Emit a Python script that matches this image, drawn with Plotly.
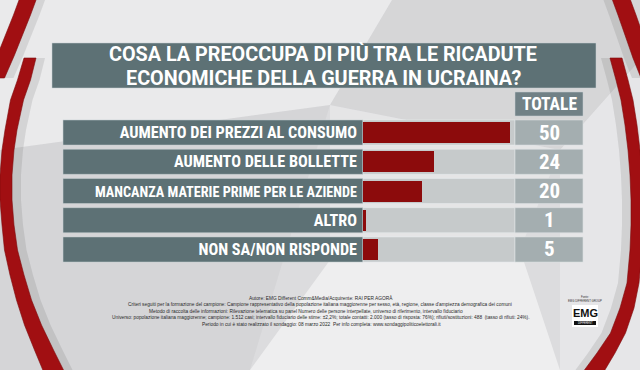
import plotly.graph_objects as go

W, H = 640, 370

# ---------------- data ----------------
title_lines = ["COSA LA PREOCCUPA DI PIÙ TRA LE RICADUTE",
               "ECONOMICHE DELLA GUERRA IN UCRAINA?"]
categories = ["AUMENTO DEI PREZZI AL CONSUMO",
              "AUMENTO DELLE BOLLETTE",
              "MANCANZA MATERIE PRIME PER LE AZIENDE",
              "ALTRO",
              "NON SA/NON RISPONDE"]
values = [50, 24, 20, 1, 5]
column_header = "TOTALE"
footer_lines = [
    "Autore: EMG Different Comm&Media/Acquirente: RAI PER AGORÀ",
    "Criteri seguiti per la formazione del campione: Campione rappresentativo della popolazione italiana maggiorenne per sesso, età, regione, classe d'ampiezza demografica dei comuni",
    "Metodo di raccolta delle informazioni: Rilevazione telematica su panel Numero delle persone interpellate, universo di riferimento, intervallo fiduciario",
    "Universo: popolazione italiana maggiorenne; campione: 1.512 casi; intervallo fiduciario delle stime: ±2,2%; totale contatti: 2.000 (tasso di risposta: 76%); rifiuti/sostituzioni: 488  (tasso di rifiuti: 24%).",
    "Periodo in cui è stato realizzato il sondaggio: 08 marzo 2022  Per info completa: www.sondaggipoliticoelettorali.it",
]
logo_text = "EMG"
logo_sub = "DIFFERENT"

# styles (kept apart from the data)
FONT = "Roboto Condensed, Liberation Sans Narrow, DejaVu Sans Condensed, sans-serif"
TITLE_FONT = "Roboto, Liberation Sans, sans-serif"
SMALL = "Liberation Sans, Arial, sans-serif"
label_sizes = [16.2, 16.2, 14.2, 16.2, 16.2]


def px(x):
    return x / W


def py(y):
    return 1 - y / H


def poly(points):
    s = "M " + " L ".join(f"{px(x):.5f},{py(y):.5f}" for x, y in points) + " Z"
    return s


def band(center, widths):
    left = [(x - w / 2, y) for (x, y), w in zip(center, widths)]
    right = [(x + w / 2, y) for (x, y), w in zip(center, widths)]
    return poly(left + right[::-1])


shapes = []

# ---------- background facets ----------
bg_polys = [
    ([(0, 0), (392, 0), (330, 105), (0, 150)], "rgba(255,255,255,0.40)"),
    ([(392, 0), (640, 0), (640, 60), (560, 150), (330, 105)], "rgba(120,120,125,0.06)"),
    ([(0, 150), (330, 105), (250, 370), (0, 370)], "rgba(90,90,95,0.05)"),
    ([(250, 370), (330, 260), (520, 250), (560, 370)], "rgba(255,255,255,0.50)"),
    ([(330, 105), (560, 150), (520, 250), (330, 260)], "rgba(255,255,255,0.25)"),
    ([(560, 150), (640, 60), (640, 370), (560, 370)], "rgba(255,255,255,0.30)"),
]
for pts, col in bg_polys:
    shapes.append(dict(type="path", path=poly(pts), xref="paper", yref="paper",
                       fillcolor=col, line=dict(width=0), layer="below"))

# ---------- red arcs ----------
RED = "#a10f12"
SHADOW = "rgba(60,60,60,0.12)"
arcs = [
    ([(29, -4), (22, 15), (14, 35), (6, 55), (-4, 78)], [17, 17, 17, 17, 17]),
    ([(30, 58), (24, 80), (17, 100), (11, 130), (8, 150), (6, 175), (6, 200), (8, 225),
      (11, 250), (17, 275), (24, 300), (33, 325), (44, 350), (55, 374)],
     [12, 13, 13, 12, 12, 12, 12, 12, 13, 14, 15, 17, 19, 21]),
    ([(620, -4), (627, 15), (634, 35), (642, 58), (650, 78)], [18, 18, 18, 18, 18]),
    ([(616, 58), (622, 80), (627, 100), (631, 125), (634, 150), (636, 175), (637, 200),
      (637, 225), (636, 250), (633, 283), (627, 308), (618, 333), (606, 353), (592, 374)],
     [12, 12, 12, 12, 12, 12, 12, 12, 12, 12, 14, 15, 18, 21]),
]
for i, (c, w) in enumerate(arcs):
    off = 7 if i < 2 else -7
    sc = [(x + off, y) for x, y in c]
    shapes.append(dict(type="path", path=band(sc, [ww + 4 for ww in w]), xref="paper",
                       yref="paper", fillcolor=SHADOW, line=dict(width=0), layer="below"))
for c, w in arcs:
    shapes.append(dict(type="path", path=band(c, w), xref="paper", yref="paper",
                       fillcolor=RED, line=dict(color="#7d0a0c", width=0.6), layer="below"))

# ---------- title box ----------
SLATE = "#5d7175"
shapes.append(dict(type="rect", xref="paper", yref="paper",
                   x0=px(52), x1=px(596), y0=py(88), y1=py(43),
                   fillcolor=SLATE, line=dict(color="rgba(200,210,212,0.5)", width=1),
                   layer="below"))
shapes.append(dict(type="rect", xref="paper", yref="paper",
                   x0=px(515), x1=px(583), y0=py(116), y1=py(92),
                   fillcolor="#718186", line=dict(color="rgba(200,210,212,0.5)", width=1),
                   layer="below"))

# ---------- rows ----------
for i, cat in enumerate(categories):
    y0, y1 = i - 0.43, i + 0.43
    shapes.append(dict(type="rect", xref="paper", yref="y", x0=px(63), x1=px(363),
                       y0=y0, y1=y1, fillcolor=SLATE,
                       line=dict(color="rgba(200,210,212,0.55)", width=1), layer="below"))
    shapes.append(dict(type="rect", xref="paper", yref="y", x0=px(363), x1=px(515),
                       y0=y0, y1=y1, fillcolor="#c6cacb",
                       line=dict(color="rgba(230,235,236,0.6)", width=1), layer="below"))
    shapes.append(dict(type="rect", xref="paper", yref="y", x0=px(515), x1=px(583),
                       y0=y0, y1=y1, fillcolor="#a4aeb0",
                       line=dict(color="rgba(220,225,226,0.6)", width=1), layer="below"))

# ---------- logo ----------
shapes.append(dict(type="rect", xref="paper", yref="paper", x0=px(572), x1=px(598),
                   y0=py(327), y1=py(305), fillcolor="white", line=dict(width=0)))
shapes.append(dict(type="rect", xref="paper", yref="paper", x0=px(574), x1=px(596),
                   y0=py(325), y1=py(321), fillcolor="#111111", line=dict(width=0)))

fig = go.Figure()
fig.add_trace(go.Bar(
    x=values, y=categories, orientation="h",
    marker=dict(color="#8c0b0c", line=dict(width=0)),
    width=0.72, hoverinfo="skip", showlegend=False,
))

annotations = []
for line, yy in zip(title_lines, [54.5, 78]):
    annotations.append(dict(text=line, x=px(323), y=py(yy), xref="paper",
                            yref="paper", showarrow=False, xanchor="center", yanchor="middle",
                            font=dict(family=TITLE_FONT, size=19.8, color="white", weight="bold")))
annotations.append(dict(text=f"<b>{column_header}</b>", x=px(549), y=py(104), xref="paper",
                        yref="paper", showarrow=False, xanchor="center", yanchor="middle",
                        font=dict(family=FONT, size=17.5, color="white")))
for cat, v in zip(categories, values):
    annotations.append(dict(text=f"<b>{v}</b>", x=px(549), y=cat, xref="paper", yref="y",
                            showarrow=False, xanchor="center", yanchor="middle",
                            font=dict(family=FONT, size=21, color="white")))

footer_x = [321, 320, 306, 321, 321]
footer_y = [298, 304.5, 311, 317.5, 324]
for line, fx, fy in zip(footer_lines, footer_x, footer_y):
    annotations.append(dict(text=line, x=px(fx), y=py(fy), xref="paper", yref="paper",
                            showarrow=False, xanchor="center", yanchor="middle",
                            font=dict(family=SMALL, size=4.8, color="#2a2a2a")))

annotations.append(dict(text="<b>" + logo_text + "</b>", x=px(585), y=py(313), xref="paper",
                        yref="paper", showarrow=False, xanchor="center", yanchor="middle",
                        font=dict(family=SMALL, size=11, color="#111111")))
annotations.append(dict(text=logo_sub, x=px(585), y=py(323), xref="paper",
                        yref="paper", showarrow=False, xanchor="center", yanchor="middle",
                        font=dict(family=SMALL, size=2.6, color="white")))
annotations.append(dict(text="Fonte:", x=px(585), y=py(297), xref="paper",
                        yref="paper", showarrow=False, xanchor="center", yanchor="middle",
                        font=dict(family=SMALL, size=2.8, color="#333")))
annotations.append(dict(text="EMG DIFFERENT GROUP", x=px(585), y=py(301), xref="paper",
                        yref="paper", showarrow=False, xanchor="center", yanchor="middle",
                        font=dict(family=SMALL, size=2.8, color="#333")))

ticktext = [f"<span style='font-size:{s}px'>{c}</span>" for c, s in zip(categories, label_sizes)]

row_top, row_bot = 117.9, 264.1
fig.update_layout(
    width=W, height=H,
    margin=dict(l=0, r=0, t=0, b=0, pad=0),
    paper_bgcolor="#dcdcde",
    plot_bgcolor="rgba(0,0,0,0)",
    bargap=0,
    shapes=shapes,
    annotations=annotations,
    xaxis=dict(domain=[px(363), px(514)], range=[0, 51.4], visible=False, fixedrange=True),
    yaxis=dict(domain=[1 - row_bot / H, 1 - row_top / H], type="category",
               categoryorder="array", categoryarray=categories,
               tickmode="array", tickvals=categories, ticktext=ticktext,
               range=[len(categories) - 0.5, -0.5],
               showgrid=False, zeroline=False, showline=False, ticks="",
               ticklabelstandoff=5,
               tickfont=dict(family=FONT, size=16.2, color="white", weight="bold"),
               fixedrange=True),
    showlegend=False,
)

fig.write_html("out.html", config={"displayModeBar": False},
               post_script="document.body.style.margin='0';document.body.style.overflow='hidden';")
